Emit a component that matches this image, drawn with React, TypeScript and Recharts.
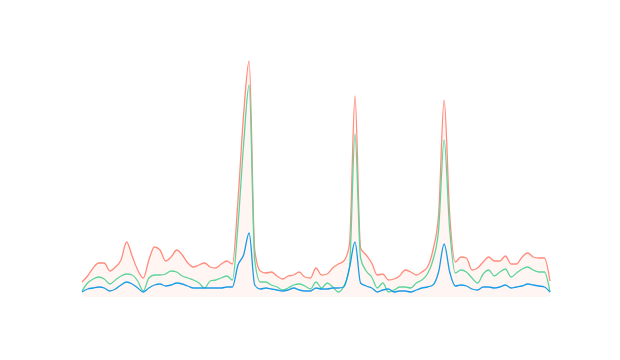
import { ComposedChart, Area, Line, XAxis, YAxis } from "recharts";

const redSeries = [
  15, 21, 29, 34, 34, 26, 30, 37, 55, 41, 27, 19, 37, 50, 47, 36, 40, 47, 42, 34,
  30, 32, 34, 30, 29, 33, 36, 33, 97, 182, 236, 47, 26, 24, 25, 21, 18, 21, 22, 25,
  20, 19, 29, 22, 23, 29, 33, 36, 52, 201, 49, 42, 34, 22, 23, 17, 18, 21, 27, 25,
  22, 25, 30, 47, 82, 197, 82, 35, 40, 39, 27, 29, 35, 40, 36, 36, 41, 33, 33, 40,
  44, 40, 39, 39, 16,
];

const greenSeries = [
  6, 14, 18, 20, 18, 13, 17, 21, 23, 22, 16, 6, 19, 22, 22, 23, 26, 25, 21, 19,
  17, 14, 9, 16, 17, 19, 21, 17, 72, 152, 212, 37, 15, 15, 12, 10, 7, 9, 12, 13,
  11, 8, 15, 9, 14, 10, 5, 11, 29, 163, 39, 26, 20, 9, 14, 5, 7, 10, 10, 9,
  14, 17, 23, 37, 67, 157, 67, 24, 27, 25, 19, 14, 23, 27, 21, 25, 28, 20, 24, 28,
  30, 27, 25, 25, 5,
];

const blueSeries = [
  5, 8, 9, 10, 9, 6, 8, 12, 15, 13, 9, 5, 9, 12, 13, 11, 12, 14, 13, 11,
  9, 9, 9, 9, 9, 9, 10, 10, 32, 42, 64, 12, 8, 9, 8, 7, 6, 7, 9, 7,
  6, 6, 9, 8, 8, 9, 9, 10, 29, 55, 14, 11, 9, 5, 7, 8, 5, 6, 6, 5,
  7, 9, 10, 12, 25, 53, 25, 11, 12, 11, 8, 7, 10, 10, 9, 10, 12, 9, 10, 11,
  13, 12, 11, 10, 5,
];

const channels = redSeries.map((_, i) => i);

const data = channels.map((ch, i) => ({
  ch,
  red: redSeries[i],
  green: greenSeries[i],
  blue: blueSeries[i],
}));

export default function App() {
  return (
    <div style={{ width: 604, height: 344 }}>
      <ComposedChart width={604} height={344} data={data} margin={{ top: 49, right: 62, bottom: 55, left: 74 }}>
        <XAxis dataKey="ch" hide />
        <YAxis hide domain={[0, 240]} />
        <Area type="monotone" dataKey="red" stroke="#ff8c7c" strokeWidth={1.3} fill="#ff8a75"
          fillOpacity={0.08} dot={false} activeDot={false} isAnimationActive={false} />
        <Line type="monotone" dataKey="green" stroke="#5ed49b" strokeWidth={1.3}
          dot={false} activeDot={false} isAnimationActive={false} />
        <Line type="monotone" dataKey="blue" stroke="#1a9be6" strokeWidth={1.3}
          dot={false} activeDot={false} isAnimationActive={false} />
      </ComposedChart>
    </div>
  );
}
